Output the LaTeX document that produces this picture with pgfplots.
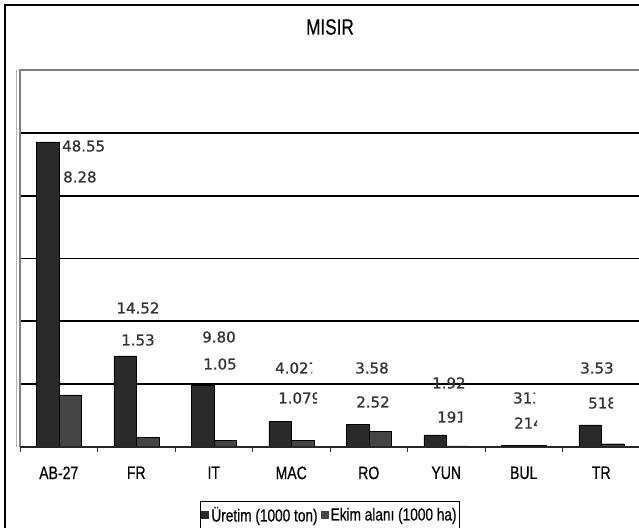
\documentclass[border=0pt]{standalone}
\usepackage{pgfplots}
\pgfplotsset{compat=1.18}
\usepackage{fontspec}
\setmainfont{Liberation Sans}
\newfontfamily\narrowfont[FakeStretch=0.78, FakeBold=0.4]{Liberation Sans}
\newfontfamily\lblfont[FakeBold=0.8]{DejaVu Sans}
\definecolor{barA}{HTML}{2A2A2A}
\definecolor{barB}{HTML}{454545}
\definecolor{lblgray}{HTML}{333333}
\newcommand\clab[4]{\begin{scope}\clip (#1-1,#2-10) rectangle (#3,#2+10);
  \node[anchor=west, inner sep=0pt, text=lblgray, font=\lblfont\fontsize{15}{17}\selectfont] at (#1,#2) {#4};\end{scope}}
\newcommand\wlab[3]{\node[anchor=west, inner sep=0pt, text=lblgray, font=\lblfont\fontsize{15}{17}\selectfont] at (#1,#2) {#3};}
\newcommand\clbl[3]{\node[inner sep=0pt, text=lblgray, font=\lblfont\fontsize{15}{17}\selectfont] at (#1,#2) {#3};}
\begin{document}
\begin{tikzpicture}[x=1pt,y=1pt]
\useasboundingbox (0,0) rectangle (639,527);
\clip (0,0) rectangle (639,527);
\fill[white] (0,0) rectangle (639,527);
\draw[line width=1.5pt] (5,-20) rectangle (700,522);
\node[font=\narrowfont\fontsize{22}{24}\selectfont] at (330,500) {MISIR};
\begin{axis}[
  at={(20pt,80pt)}, anchor=south west, scale only axis,
  width=620pt, height=377pt,
  xmin=-0.5, xmax=7.5, ymin=0, ymax=60,
  ybar=0pt, bar width=22.5pt,
  ytick={10,20,...,50}, yticklabels={},
  ymajorgrids, grid style={black, line width=1.8pt},
  major y tick style={draw=none},
  xtick={0,...,7}, xticklabels={AB-27,FR,IT,MAC,RO,YUN,BUL,TR},
  major tick length=0pt,
  minor xtick={-0.5,0.5,...,7.5},
  minor tick length=5pt, tick align=outside, xtick pos=bottom, ytick pos=left,
  minor x tick style={black!80, line width=0.8pt},
  xticklabel style={font=\narrowfont\fontsize{18}{20}\selectfont, yshift=-16pt},
  axis line style={draw=none},
  legend style={at={(axis description cs:0.5,-0.142)}, anchor=north,
    legend columns=2, draw=black, line width=0.6pt,
    font=\narrowfont\fontsize{17.5}{19}\selectfont, inner ysep=4pt, inner xsep=1pt,
    /tikz/every even column/.append style={column sep=1pt}},
  legend image code/.code={\fill[#1, draw=none] (0pt,-4pt) rectangle (8pt,4pt);},
  clip=false,
]
\addplot[fill=barA, draw=black, line width=0.4pt] coordinates {(0,48.55) (1,14.52) (2,9.80) (3,4.027) (4,3.58) (5,1.925) (6,0.313) (7,3.53)};
\addplot[fill=barB, draw=black, line width=0.4pt] coordinates {(0,8.28) (1,1.53) (2,1.05) (3,1.079) (4,2.52) (5,0.191) (6,0.214) (7,0.518)};
\legend{\"Uretim (1000 ton),Ekim alanı (1000 ha)}
\draw[gray, line width=1.2pt] (rel axis cs:0,0) -- (rel axis cs:0,1) -- (rel axis cs:1,1);
\draw[black!85, line width=1.4pt] (rel axis cs:0,0) -- (rel axis cs:1,0);
\end{axis}
\draw[gray!60, line width=0.6pt] (16,80) -- (16,457);
\wlab{62}{381}{48.55}
\wlab{63}{350}{8.28}
\clbl{138}{219}{14.52}
\clbl{138}{187}{1.53}
\clbl{219}{190}{9.80}
\clbl{220}{163}{1.05}
\clab{275}{159}{312}{4.027}
\clab{278}{129}{317}{1.079}
\clbl{372}{159}{3.58}
\clbl{373}{125}{2.52}
\clab{432}{144}{465}{1.925}
\clab{437}{110}{462}{191}
\clab{513}{129}{535}{313}
\clab{514}{104}{537}{214}
\clbl{597}{159}{3.53}
\clab{588}{124}{613}{518}
\end{tikzpicture}
\end{document}
